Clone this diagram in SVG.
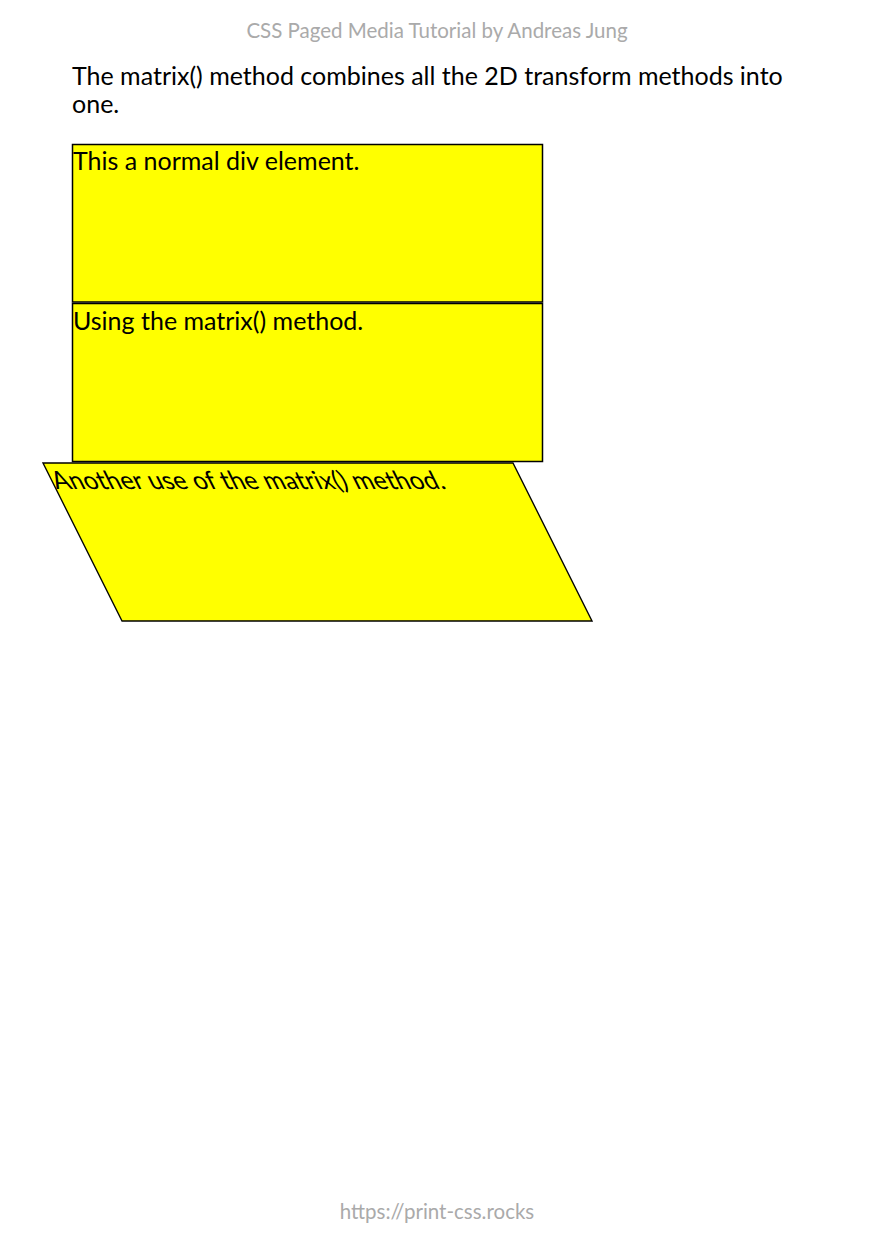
<svg xmlns="http://www.w3.org/2000/svg" width="874" height="1240" viewBox="0 0 874 1240">
<style>
.t{font-family:Lato,"Liberation Sans",sans-serif;fill:#000;font-size:25px}
.g{font-family:Lato,"Liberation Sans",sans-serif;fill:#aaaaaa;font-size:20.5px}
.box{fill:#ffff00;stroke:#000;stroke-width:1.5}
</style>
<rect width="874" height="1240" fill="#fff"/>
<text class="g" x="437" y="37.5" text-anchor="middle">CSS Paged Media Tutorial by Andreas Jung</text>
<text class="t" x="72" y="85">The matrix() method combines all the 2D transform methods into</text>
<text class="t" x="72" y="113">one.</text>
<g id="box1">
<rect class="box" x="72.5" y="144.5" width="470" height="157.5"/>
<text class="t" x="73" y="170">This a normal div element.</text>
</g>
<g id="box2">
<rect class="box" x="72.5" y="303.5" width="470" height="158"/>
<text class="t" x="73" y="330">Using the matrix() method.</text>
</g>
<g id="box3" transform="matrix(1,0,0.5,1,-261,0)">
<rect class="box" x="72.5" y="463" width="470" height="158"/>
<text class="t" x="73" y="489">Another use of the matrix() method.</text>
</g>
<text class="g" x="437" y="1218.5" text-anchor="middle">https://print-css.rocks</text>
</svg>
